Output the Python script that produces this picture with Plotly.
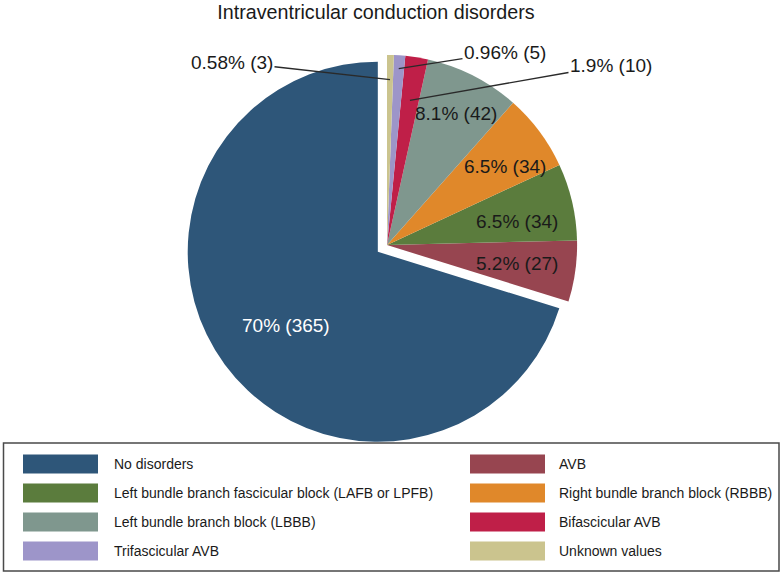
import math
import plotly.graph_objects as go

# ---------------- data ----------------
labels = [
    "No disorders",
    "AVB",
    "Left bundle branch fascicular block (LAFB or LPFB)",
    "Right bundle branch block (RBBB)",
    "Left bundle branch block (LBBB)",
    "Bifascicular AVB",
    "Trifascicular AVB",
    "Unknown values",
]
counts = [365, 27, 34, 34, 42, 10, 5, 3]
colors = ["#2e5679", "#974550", "#5b7c3d", "#e0882a", "#7f978e", "#bf1f48", "#9d95c9", "#cbc48e"]
pulls = [0.06, 0, 0, 0, 0, 0, 0, 0]
# slices whose labels are drawn outside with a leader line
outside = ["Bifascicular AVB", "Trifascicular AVB", "Unknown values"]
title_text = "Intraventricular conduction disorders"

# ---------------- layout helpers ----------------
W, H = 783, 574
FONT = "Liberation Sans, Arial, Helvetica, sans-serif"
TXT = "#1a1a1a"


def px(x):
    return x / W


def py(y):
    return 1 - y / H


# pie domain (pixel centre 387,245)
dom_x = [px(387 - 250), px(387 + 250)]
dom_y = [py(245 + 201.5), py(245 - 201.5)]

total = sum(counts)

# plotly's counterclockwise pies end the first slice at the rotation angle;
# rotate so that the first slice starts at 12 o'clock instead
rotation = -counts[0] / total * 360

fig = go.Figure()
fig.add_trace(
    go.Pie(
        labels=labels,
        values=counts,
        sort=False,
        direction="counterclockwise",
        rotation=rotation,
        pull=pulls,
        marker=dict(colors=colors, line=dict(width=0)),
        textinfo="none",
        domain=dict(x=dom_x, y=dom_y),
        showlegend=False,
        hoverinfo="label+value+percent",
    )
)

# ---------- slice labels ("pct% (n)") ----------
cx = (dom_x[0] + dom_x[1]) / 2 * W
cy = (1 - (dom_y[0] + dom_y[1]) / 2) * H
r = min((dom_x[1] - dom_x[0]) * W, (dom_y[1] - dom_y[0]) * H) / 2 / (1 + max(pulls))

# label text centres (pixels); for the outside labels also the radius fraction of the line tip
inside_pos = {
    "No disorders": (286, 325),
    "AVB": (516.5, 263),
    "Left bundle branch fascicular block (LAFB or LPFB)": (516.5, 222),
    "Right bundle branch block (RBBB)": (505, 166),
    "Left bundle branch block (LBBB)": (456, 113),
}
outside_pos = {
    "Unknown values": ((232, 62), 0.87),
    "Trifascicular AVB": ((505, 52), 0.93),
    "Bifascicular AVB": ((611, 65), 0.77),
}
cum = 0
for lab, v in zip(labels, counts):
    mid = (cum + v / 2) / total * 360
    cum += v
    label_text = f"{v / total * 100:.2g}% ({v})"
    if lab in inside_pos:
        tx, ty = inside_pos[lab]
        fig.add_annotation(
            x=px(tx), y=py(ty), xref="paper", yref="paper", text=label_text,
            showarrow=False, xanchor="center", yanchor="middle",
            font=dict(family=FONT, size=19, color="white" if lab == labels[0] else TXT),
        )
        continue
    (tx, ty), rf = outside_pos[lab]
    th = math.radians(mid)
    tipx = cx - rf * r * math.sin(th)
    tipy = cy - rf * r * math.cos(th)
    fig.add_annotation(
        x=px(tipx), y=py(tipy), xref="paper", yref="paper",
        text=label_text,
        showarrow=True, arrowhead=0, arrowwidth=1.4, arrowcolor="#2a2a2a",
        ax=tx - tipx, ay=ty - tipy, standoff=0,
        font=dict(family=FONT, size=19, color=TXT),
    )

# ---------------- manual legend ----------------
shapes = [
    dict(type="rect", xref="paper", yref="paper",
         x0=px(3.5), x1=px(779), y0=py(571), y1=py(443),
         line=dict(color="#4a4a4a", width=1.5), fillcolor="rgba(0,0,0,0)")
]
row_c = [464, 493, 522, 551]
col_rect = [23, 470]
col_text = [112, 557]
for i, (lab, col) in enumerate(zip(labels, colors)):
    rr, cc = divmod(i, 2)
    yc = row_c[rr]
    shapes.append(dict(type="rect", xref="paper", yref="paper",
                       x0=px(col_rect[cc]), x1=px(col_rect[cc] + 75),
                       y0=py(yc + 9.5), y1=py(yc - 9.5),
                       line=dict(width=0), fillcolor=col))
    fig.add_annotation(x=px(col_text[cc]), y=py(yc), xref="paper", yref="paper",
                       text=lab, showarrow=False, xanchor="left", yanchor="middle",
                       font=dict(family=FONT, size=14, color=TXT))

fig.update_layout(
    width=W, height=H,
    margin=dict(l=0, r=0, t=0, b=0),
    paper_bgcolor="white", plot_bgcolor="white",
    title=dict(text=title_text, x=px(376), xanchor="center", y=py(12), yanchor="middle",
               font=dict(family=FONT, size=19.7, color=TXT)),
    shapes=shapes,
    showlegend=False,
)

# remove the browser's default 8px body margin so the figure sits at the page origin
fig.write_html("out.html", config={"displayModeBar": False},
               post_script="document.body.style.margin='0';")
